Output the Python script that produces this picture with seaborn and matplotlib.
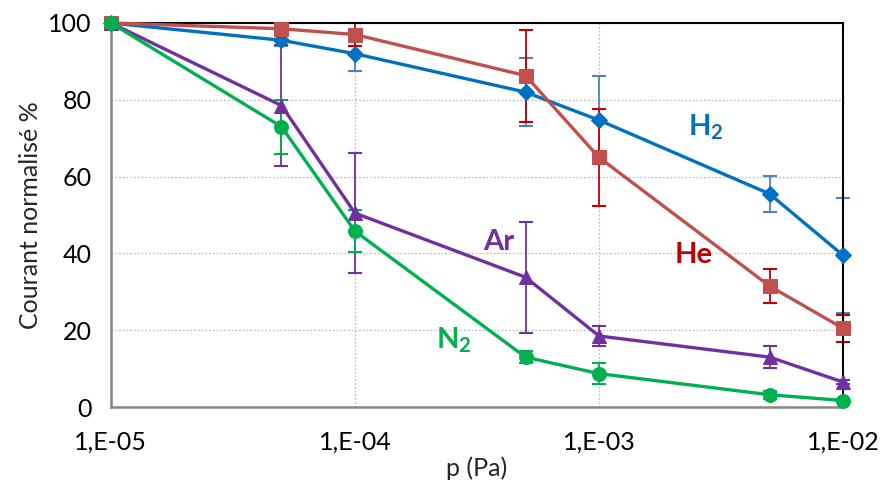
import numpy as np
import pandas as pd
import matplotlib
matplotlib.use("Agg")
import matplotlib.pyplot as plt
import seaborn as sns
from matplotlib.ticker import LogLocator, FixedLocator, FuncFormatter, NullFormatter

# pressures (Pa)
pressure = [1e-5, 5e-5, 1e-4, 5e-4, 1e-3, 5e-3, 1e-2]

h2 = [100, 95.5, 92.0, 82.0, 74.7, 55.5, 39.5]
h2_err = [0, 1.5, 4.5, 8.8, 11.5, 4.7, 15.0]
he = [100, 98.5, 97.0, 86.3, 65.0, 31.5, 20.5]
he_err = [0, 0.5, 3.0, 12.0, 12.7, 4.5, 3.5]
ar = [100, 78.5, 50.5, 33.8, 18.5, 13.0, 6.5]
ar_err = [0, 15.7, 15.7, 14.5, 2.6, 2.9, 0.5]
n2 = [100, 73.0, 45.8, 13.0, 8.7, 3.2, 1.7]
n2_err = [0, 7.0, 5.5, 1.5, 2.8, 1.0, 0.5]

labels = ["H$_\\mathbf{2}$", "He", "Ar", "N$_\\mathbf{2}$"]
label_x = [2.75e-3, 2.45e-3, 3.9e-4, 2.55e-4]
label_y = [73, 39.5, 43, 17.5]

sns.set_theme(style="white")
plt.rcParams["font.family"] = ["Lato", "DejaVu Sans"]
plt.rcParams["mathtext.fontset"] = "custom"
plt.rcParams["mathtext.rm"] = "Lato"
plt.rcParams["mathtext.bf"] = "Lato:bold"

series = [
    (h2, h2_err, "#0070C0", "#4F81BD", "D", 8),
    (he, he_err, "#C0504D", "#C00000", "s", 10),
    (ar, ar_err, "#7030A0", "#7030A0", "^", 10),
    (n2, n2_err, "#00B050", "#00B050", "o", 10),
]
label_colors = ["#0070C0", "#C00000", "#7030A0", "#00B050"]

fig = plt.figure(figsize=(8.8, 4.84), dpi=100)
ax = fig.add_axes([0.126, 0.159, 0.832, 0.7935])

for vals, errs, lc, ec, mk, ms in series:
    df = pd.DataFrame({"p": pressure, "v": vals})
    ax.errorbar(pressure, vals, yerr=errs, fmt="none", ecolor=ec,
                elinewidth=1.3, capsize=5, capthick=1.5, zorder=2, clip_on=False)
    sns.lineplot(data=df, x="p", y="v", ax=ax, color=lc, linewidth=2.4,
                 marker=mk, markersize=ms, markeredgecolor=lc,
                 estimator=None, sort=False, zorder=3, clip_on=False)

for txt, x, y, c in zip(labels, label_x, label_y, label_colors):
    ax.text(x, y, txt, color=c, fontsize=21, fontweight="bold",
            ha="center", va="center")

ax.set_xscale("log")
ax.set_xlim(1e-5, 1e-2)
ax.set_ylim(0, 100)

ax.xaxis.set_major_locator(FixedLocator([1e-5, 1e-4, 1e-3, 1e-2]))
ax.xaxis.set_minor_locator(LogLocator(base=10, subs=np.arange(2, 10)))
ax.xaxis.set_minor_formatter(NullFormatter())
ax.xaxis.set_major_formatter(FuncFormatter(lambda v, _: "1,E-%02d" % round(-np.log10(v))))
ax.yaxis.set_major_locator(FixedLocator([0, 20, 40, 60, 80, 100]))
ax.yaxis.set_minor_locator(FixedLocator([10, 30, 50, 70, 90]))

ax.tick_params(axis="both", which="major", direction="in", length=6, width=1.2,
               color="#868686", labelsize=18, labelcolor="black", pad=14)
ax.tick_params(axis="both", which="minor", direction="in", length=5, width=1.2,
               color="#868686")
ax.tick_params(axis="x", which="major", pad=17)

ax.grid(True, which="major", axis="both", color="#BFBFBF", linestyle=(0, (1.5, 1.5)),
        linewidth=0.9)
ax.set_axisbelow(True)

for side in ["left", "bottom"]:
    ax.spines[side].set_color("#868686")
    ax.spines[side].set_linewidth(1.8)
for side in ["top", "right"]:
    ax.spines[side].set_color("black")
    ax.spines[side].set_linewidth(1.5)

ax.set_xlabel("p (Pa)", fontsize=18, labelpad=2)
ax.set_ylabel("Courant normalisé %", fontsize=18, labelpad=4)

fig.savefig("out.png", dpi=100)
